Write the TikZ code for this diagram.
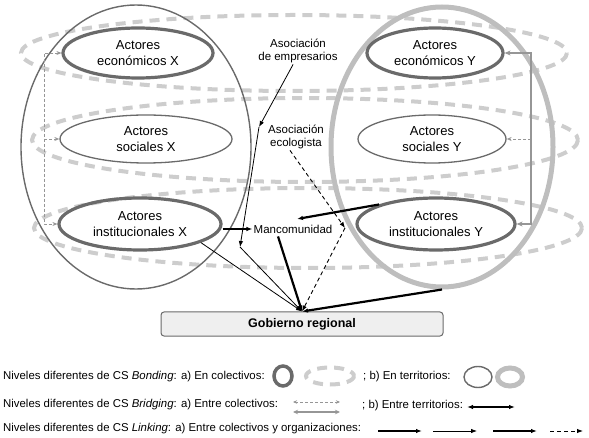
\documentclass[tikz,border=0pt]{standalone}
\usepackage{fontspec}
\setmainfont{Liberation Sans}
\usetikzlibrary{shapes.geometric,arrows.meta,calc}
\definecolor{dg}{HTML}{6A6A6A}
\definecolor{lg}{HTML}{BEBEBE}
\definecolor{dl}{HTML}{CDCDCD}
\definecolor{mg}{HTML}{969696}
\definecolor{boxfill}{HTML}{EFEFEF}
\begin{document}
\begin{tikzpicture}[x=1pt,y=-1pt,
  lab/.style={font=\fontsize{13}{16}\selectfont, align=center},
  small/.style={font=\fontsize{11.5}{13.5}\selectfont, align=center, inner sep=1pt},
  leg/.style={font=\fontsize{11.4}{13}\selectfont, anchor=west, inner sep=0pt},
  actthick/.style={ellipse, draw=dg, line width=3.2pt, inner sep=0pt, lab},
  actthin/.style={ellipse, draw=dg, line width=1.3pt, inner sep=0pt, lab},
  terrX/.style={ellipse, draw=dg, line width=1.4pt, inner sep=0pt},
  terrY/.style={ellipse, draw=lg, line width=5pt, inner sep=0pt},
  bondD/.style={draw=dl, line width=4pt, dash pattern=on 10pt off 7pt},
  gtip/.style={-{Stealth[length=5pt,width=4pt]}},
  brD/.style={draw=mg, line width=0.9pt, dash pattern=on 3pt off 2pt},
  brS/.style={draw=mg, line width=1.8pt},
  ktip/.style={-{Latex[length=6pt,width=4.5pt]}},
  lkThick/.style={draw=black, line width=2.2pt, ktip},
  lkThin/.style={draw=black, line width=0.8pt, ktip},
  lkMed/.style={draw=black, line width=1.4pt, ktip},
  lkDash/.style={draw=black, line width=0.9pt, dash pattern=on 4pt off 3pt, ktip},
  terrArrow/.style={draw=black, line width=1.6pt, {Latex[length=6pt,width=4.5pt]}-{Latex[length=6pt,width=4.5pt]}}
]
\useasboundingbox (0,0) rectangle (589,438);

% bonding collectives (dashed light ellipses)
\draw[bondD] (294,53) ellipse [x radius=273, y radius=38];
\draw[bondD] (305,140) ellipse [x radius=273, y radius=42];
\draw[bondD] (308,228) ellipse [x radius=274, y radius=40];

% territories
\node[terrX, minimum width=230pt, minimum height=284pt] (bx) at (136,147) {};
\node[terrY, minimum width=222pt, minimum height=280pt] (by) at (442,147) {};

% actors
\node[actthick, minimum width=150pt, minimum height=50pt] (ex) at (138,53) {Actores\\económicos X};
\node[actthin,  minimum width=172pt, minimum height=48pt] (sx) at (146,139) {Actores\\sociales X};
\node[actthick, minimum width=162pt, minimum height=52pt] (ix) at (140,224) {Actores\\institucionales X};
\node[actthick, minimum width=136pt, minimum height=50pt] (ey) at (435,53) {Actores\\económicos Y};
\node[actthin,  minimum width=148pt, minimum height=48pt] (sy) at (432,139) {Actores\\sociales Y};
\node[actthick, minimum width=158pt, minimum height=52pt] (iy) at (436,224) {Actores\\institucionales Y};

% organisations
\node[small] (emp) at (298,51) {Asociación\\de empresarios};
\node[small] (eco) at (296,137) {Asociación\\ecologista};
\node[small] (man) at (293,229) {Mancomunidad};
\node[draw=dg, line width=1pt, fill=boxfill, rounded corners=3pt, minimum width=282pt, minimum height=24pt,
      font=\fontsize{12.5}{14}\selectfont\bfseries] (gob) at (302,324) {Gobierno regional};

% bridging between collectives (X side)
\coordinate (lb1) at (44,53);
\coordinate (lb2) at (44,139);
\coordinate (lb3) at (44,224);
\draw[brD, {Stealth[length=5pt,width=4pt]}-{Stealth[length=5pt,width=4pt]}] (ex.west) -- (lb1) -- (lb3) -- (ix.west);
\draw[brD, gtip] (lb2) -- (sx.west);

% bridging between collectives (Y side)
\coordinate (rb1) at (531,53);
\coordinate (rb2) at (531,139);
\coordinate (rb3) at (531,224);
\draw[brS, {Stealth[length=6pt,width=5pt]}-{Stealth[length=6pt,width=5pt]}] (ey.east) -- (rb1) -- (rb3) -- (iy.east);
\draw[brD, gtip] (rb2) -- (sy.east);

% linking
\coordinate (k1) at (259,127);
\coordinate (k2) at (240,247);
\coordinate (k3) at (345,228);
\coordinate (k4) at (297,219);
\draw[lkThin] (emp.250) -- (k1);
\draw[lkThin] (k1) -- (k2);
\draw[lkThin] (k2) -- (gob.north);
\draw[lkDash] (eco.south) ++(-6,0) -- (k3);
\draw[lkDash] (k3) -- (gob.north);
\draw[lkThick] (ix.east |- man.west) -- (man.west);
\draw[lkThick] (iy.north west) -- (k4);
\draw[lkThick] ($(man.south)+(-15,2)$) -- (gob.north);
\draw[lkThin] (ix.-17) -- (gob.north);
\draw[lkThick] (by.south) -- (gob.north);

% legend
\node[leg] (l1) at (3,377) {Niveles diferentes de CS \textit{Bonding}: a) En colectivos:};
\draw[draw=dg, line width=3.5pt] (283,376) ellipse [x radius=9, y radius=10];
\draw[draw=dl, line width=4pt, dash pattern=on 10pt off 7pt] (330,376) ellipse [x radius=24, y radius=8.5];
\node[leg] (l1b) at (363,377) {; b) En territorios:};
\draw[draw=dg, line width=1.4pt] (478,377) ellipse [x radius=14, y radius=10.5];
\draw[draw=lg, line width=5pt] (510,377) ellipse [x radius=12.5, y radius=9];

\node[leg] (l2) at (3,405) {Niveles diferentes de CS \textit{Bridging}: a) Entre colectivos:};
\coordinate (b1a) at (293,402); \coordinate (b1b) at (340,402);
\coordinate (b2a) at (293,412); \coordinate (b2b) at (340,412);
\draw[brD, {Stealth[length=4pt,width=3.5pt]}-{Stealth[length=4pt,width=3.5pt]}] (b1a) -- (b1b);
\draw[brS, {Stealth[length=5pt,width=4.5pt]}-{Stealth[length=5pt,width=4.5pt]}] (b2a) -- (b2b);
\node[leg] (l2b) at (362,406) {; b) Entre territorios:};
\coordinate (t1) at (467,407); \coordinate (t2) at (515,407);
\draw[terrArrow] (t1) -- (t2);

\node[leg] (l3) at (3,429) {Niveles diferentes de CS \textit{Linking}: a) Entre colectivos y organizaciones:};
\coordinate (m1a) at (378,431); \coordinate (m1b) at (422,431);
\coordinate (m2a) at (433,431); \coordinate (m2b) at (477,431);
\coordinate (m3a) at (493,431); \coordinate (m3b) at (537,431);
\coordinate (m4a) at (550,431); \coordinate (m4b) at (583,431);
\draw[lkThick] (m1a) -- (m1b);
\draw[lkThin] (m2a) -- (m2b);
\draw[lkMed] (m3a) -- (m3b);
\draw[lkDash] (m4a) -- (m4b);
\end{tikzpicture}
\end{document}
